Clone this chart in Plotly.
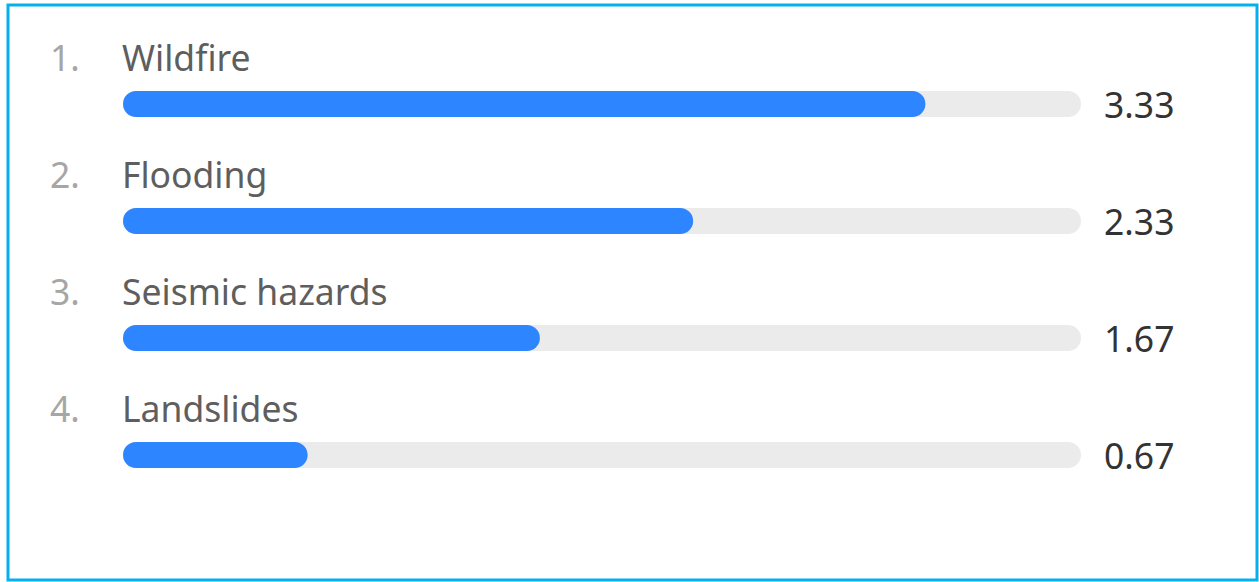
import plotly.graph_objects as go

# ---- data ----
ranks = ["1.", "2.", "3.", "4."]
categories = ["Wildfire", "Flooding", "Seismic hazards", "Landslides"]
scores = [3.33, 2.33, 1.67, 0.67]
value_labels = ["3.33", "2.33", "1.67", "0.67"]
max_score = 4

# ---- layout constants (pixels) ----
W, H = 1259, 582
ML, MR, MT, MB = 8, 2, 5, 2          # plot area = framed box
BAR_X0, BAR_X1 = 123, 1081           # track pixel extent
ROW0_Y, ROW_STEP = 104, 117          # bar centre of first row, row spacing
BAR_H = 26
CAP_PAD = 0.125                      # data units before zero (rounded cap)

scale = (BAR_X1 - BAR_X0) / (max_score + CAP_PAD)
x_lo = -CAP_PAD - (BAR_X0 - ML) / scale
x_hi = max_score + ((W - MR) - BAR_X1) / scale
y_top = -(ROW0_Y - MT) / ROW_STEP
y_bot = ((H - MB) - ROW0_Y) / ROW_STEP
bar_w = BAR_H / ROW_STEP

rows = list(range(len(categories)))

BLUE = "#2D86FF"
TRACK = "#EBEBEB"
FONT = "Noto Sans"
FS = 35.5

fig = go.Figure()
fig.add_trace(go.Bar(
    y=rows, x=[max_score + CAP_PAD] * len(rows), base=-CAP_PAD,
    orientation="h", width=bar_w, marker=dict(color=TRACK, cornerradius=13, line_width=0),
    hoverinfo="skip", showlegend=False,
))
fig.add_trace(go.Bar(
    y=rows, x=[s + CAP_PAD for s in scores], base=-CAP_PAD,
    orientation="h", width=bar_w, marker=dict(color=BLUE, cornerradius=13, line_width=0),
    customdata=scores, hovertemplate="%{customdata}<extra></extra>", showlegend=False,
))

for r, rk, cat, vl in zip(rows, ranks, categories, value_labels):
    fig.add_annotation(x=-CAP_PAD, y=r, xref="x", yref="y", text=rk, showarrow=False,
                       xanchor="left", yanchor="middle", xshift=-75, yshift=47,
                       font=dict(family=FONT, size=FS, color="#A6A6A6"))
    fig.add_annotation(x=-CAP_PAD, y=r, xref="x", yref="y", text=cat, showarrow=False,
                       xanchor="left", yanchor="middle", xshift=-3, yshift=47,
                       font=dict(family=FONT, size=FS, color="#5E5E5E"))
    fig.add_annotation(x=max_score, y=r, xref="x", yref="y", text=vl, showarrow=False,
                       xanchor="left", yanchor="middle", xshift=21, yshift=0,
                       font=dict(family=FONT, size=FS, color="#333333"))

fig.add_shape(type="rect", xref="paper", yref="paper", x0=0, x1=1, y0=0, y1=1,
              line=dict(color="#05B0EF", width=3), fillcolor="rgba(0,0,0,0)", layer="above")

fig.update_layout(
    width=W, height=H,
    margin=dict(l=ML, r=MR, t=MT, b=MB, pad=0),
    paper_bgcolor="white", plot_bgcolor="white",
    barmode="overlay",
    xaxis=dict(range=[x_lo, x_hi], visible=False, fixedrange=True),
    yaxis=dict(range=[y_bot, y_top], visible=False, fixedrange=True),
    font=dict(family=FONT),
)

fig.write_html("out.html", config={"displayModeBar": False})
